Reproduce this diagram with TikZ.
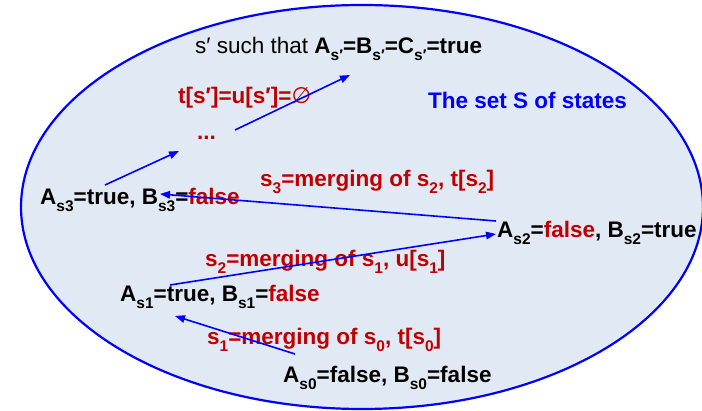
\documentclass[tikz,border=0pt]{standalone}
\usepackage{fontspec}
\setmainfont{Liberation Sans}
\newfontfamily\symfont{DejaVu Sans}
\usetikzlibrary{arrows.meta}
\definecolor{dred}{RGB}{192,0,0}
\definecolor{setfill}{RGB}{225,233,244}
\tikzset{
  txt/.style={inner sep=0pt, anchor=west, font=\fontsize{22.5}{26}\selectfont\bfseries},
  redtxt/.style={txt, text=dred},
  conn/.style={draw=blue, line width=1.6pt, -{Triangle[length=10pt,width=7.5pt]}}
}
\newcommand{\sub}[1]{\raisebox{-0.28em}{\fontsize{15.5}{16}\selectfont #1}}
\begin{document}
\begin{tikzpicture}[x=1pt,y=-1pt]
\useasboundingbox (0,0) rectangle (702,411);
\draw[blue, line width=2.2pt, fill=setfill] (362,207) ellipse [x radius=341, y radius=202];
\node[txt] (top) at (195,49) {\mdseries s′ such that \bfseries A\sub{s′}=B\sub{s′}=C\sub{s′}=true};
\node[redtxt] (empty) at (178,98) {t[s′]=u[s′]={\symfont\mdseries ∅}};
\node[txt, text=blue] (set) at (428,100) {The set S of states};
\node[redtxt] (dots) at (197,138) {...};
\node[redtxt] (m3) at (260,182) {s\sub{3}=merging of s\sub{2}, t[s\sub{2}]};
\node[txt] (s3) at (40,200) {A\sub{s3}=true, B\sub{s3}=\textcolor{dred}{false}};
\node[txt] (s2) at (497,233) {A\sub{s2}=\textcolor{dred}{false}, B\sub{s2}=true};
\node[redtxt] (m2) at (205,262) {s\sub{2}=merging of s\sub{1}, u[s\sub{1}]};
\node[txt] (s1) at (120,297) {A\sub{s1}=true, B\sub{s1}=\textcolor{dred}{false}};
\node[redtxt] (m1) at (207,340) {s\sub{1}=merging of s\sub{0}, t[s\sub{0}]};
\node[txt] (s0) at (283,378) {A\sub{s0}=false, B\sub{s0}=false};
\coordinate (a0) at (295,354);
\coordinate (b0) at (175,316);
\coordinate (a1) at (170,285);
\coordinate (b1) at (496,234);
\coordinate (a2) at (496,221);
\coordinate (b2) at (160,194);
\coordinate (a3) at (105,185);
\coordinate (b3) at (179,151);
\coordinate (a4) at (235,130);
\coordinate (b4) at (350,75);
\draw[conn] (a0) -- (b0);
\draw[conn] (a1) -- (b1);
\draw[conn] (a2) -- (b2);
\draw[conn] (a3) -- (b3);
\draw[conn] (a4) -- (b4);
\end{tikzpicture}
\end{document}
